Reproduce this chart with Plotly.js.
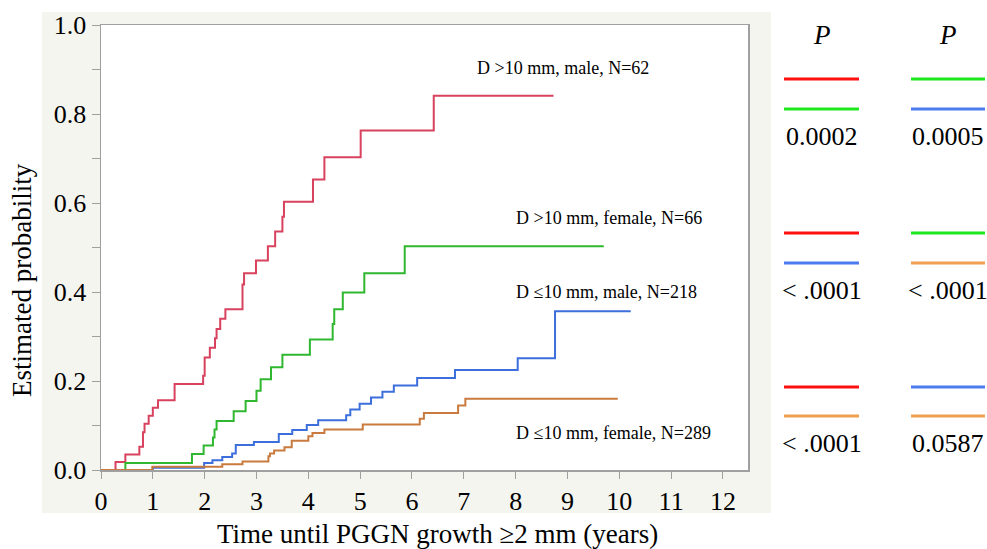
<!DOCTYPE html>
<html>
<head>
<meta charset="utf-8">
<script src="https://cdn.plot.ly/plotly-3.0.1.min.js"></script>
<style>html,body{margin:0;padding:0;background:#fff;}</style>
</head>
<body>
<div id="chart" style="width:987px;height:549px;"></div>
<script>
// Kaplan-Meier style cumulative estimates
const redT = [0, 0.28, 0.47, 0.74, 0.81, 0.84, 0.92, 1.0, 1.10, 1.42, 1.97, 2.0, 2.10, 2.20, 2.23, 2.30, 2.40, 2.73, 2.76, 2.99, 3.22, 3.36, 3.50, 3.53, 4.09, 4.31, 5.01, 6.42, 8.73];
const redP = [0, 0.018, 0.035, 0.052, 0.085, 0.104, 0.122, 0.140, 0.157, 0.193, 0.212, 0.253, 0.275, 0.296, 0.317, 0.340, 0.361, 0.417, 0.442, 0.471, 0.503, 0.536, 0.569, 0.603, 0.653, 0.703, 0.763, 0.841, 0.841];

const greenT = [0, 0.47, 1.755, 1.98, 2.16, 2.19, 2.23, 2.56, 2.79, 3.0, 3.08, 3.28, 3.50, 4.03, 4.47, 4.50, 4.665, 5.08, 5.86, 9.70];
const greenP = [0, 0.016, 0.036, 0.055, 0.073, 0.091, 0.110, 0.132, 0.155, 0.178, 0.204, 0.231, 0.259, 0.293, 0.328, 0.361, 0.399, 0.442, 0.503, 0.503];

const blueT = [0, 1.0, 1.99, 2.15, 2.34, 2.53, 2.60, 2.95, 3.43, 3.69, 3.97, 4.19, 4.73, 4.81, 4.99, 5.21, 5.43, 5.65, 6.10, 6.83, 8.04, 8.76, 10.22];
const blueP = [0, 0.005, 0.016, 0.022, 0.029, 0.037, 0.056, 0.063, 0.081, 0.090, 0.101, 0.112, 0.123, 0.136, 0.149, 0.163, 0.176, 0.190, 0.207, 0.225, 0.251, 0.357, 0.357];

const orangeT = [0, 0.99, 2.34, 2.73, 3.23, 3.26, 3.34, 3.54, 3.68, 4.0, 4.08, 4.31, 5.05, 6.15, 6.23, 6.89, 7.03, 9.97];
const orangeP = [0, 0.0075, 0.013, 0.019, 0.031, 0.037, 0.044, 0.051, 0.066, 0.076, 0.083, 0.091, 0.102, 0.115, 0.128, 0.145, 0.160, 0.160];

const groupLabels = ["D >10 mm, male, N=62", "D >10 mm, female, N=66", "D \u226410 mm, male, N=218", "D \u226410 mm, female, N=289"];
const xTicks = [0,1,2,3,4,5,6,7,8,9,10,11,12];
const yTicks = [0, 0.2, 0.4, 0.6, 0.8, 1.0];
const yTickText = ["0.0", "0.2", "0.4", "0.6", "0.8", "1.0"];
const xTitle = "Time until PGGN growth \u22652 mm (years)";
const yTitle = "Estimated probability";

// pairwise comparisons: [colour A, colour B, P text]
const pairA = ["red", "green", "red", "green", "red", "blue"];
const pairB = ["green", "blue", "blue", "orange", "orange", "orange"];
const pValues = ["0.0002", "0.0005", "< .0001", "< .0001", "< .0001", "0.0587"];

const curveColors = {red: "#d8425e", green: "#2fb72f", blue: "#3c6fdc", orange: "#c97a3e"};
const keyColors = {red: "#ff1010", green: "#1ee81e", blue: "#4a7cf0", orange: "#f0a050"};

const W = 987, H = 549;
const L = 101, R = 748, T = 25, B = 470;
const pw = R - L, ph = B - T;
const px = v => (v - L) / pw;
const py = v => (B - v) / ph;
const serif = "'Liberation Serif', 'Times New Roman', serif";

function curve(t, p, c) {
  return {x: t, y: p, type: "scatter", mode: "lines", line: {shape: "hv", color: curveColors[c], width: 2}, showlegend: false, hoverinfo: "x+y"};
}
const data = [
  curve(redT, redP, "red"),
  curve(greenT, greenP, "green"),
  curve(blueT, blueP, "blue"),
  curve(orangeT, orangeP, "orange")
];

const shapes = [{
  type: "rect", xref: "paper", yref: "paper", layer: "below",
  x0: px(42), x1: px(771), y0: py(513), y1: py(12),
  fillcolor: "#f5f5f0", line: {width: 0}
}, {
  type: "rect", xref: "paper", yref: "paper", layer: "below",
  x0: 0, x1: 1, y0: 0, y1: 1,
  fillcolor: "#ffffff", line: {width: 0}
}];

const annotations = [];
const labelPos = [[563, 68], [609, 218], [606, 292], [613, 433]];
groupLabels.forEach((g, i) => {
  annotations.push({xref: "paper", yref: "paper", x: px(labelPos[i][0]), y: py(labelPos[i][1]),
    text: g, showarrow: false, xanchor: "center", yanchor: "middle",
    font: {family: serif, size: 18, color: "#000"}});
});

// axis titles
annotations.push({xref: "paper", yref: "paper", x: px(437), y: py(534), text: xTitle, showarrow: false,
  xanchor: "center", yanchor: "middle", font: {family: serif, size: 27, color: "#000"}});
annotations.push({xref: "paper", yref: "paper", x: px(22), y: py(280), text: yTitle, showarrow: false, textangle: -90,
  xanchor: "center", yanchor: "middle", font: {family: serif, size: 27, color: "#000"}});

// legend / P-value panel
const colX = [[784, 859], [911, 985]];
const rowY = [[79, 109, 136], [233, 263, 290], [387, 416, 443]];
[0, 1].forEach(c => {
  annotations.push({xref: "paper", yref: "paper", x: px((colX[c][0] + colX[c][1]) / 2), y: py(35),
    text: "<i>P</i>", showarrow: false, xanchor: "center", yanchor: "middle",
    font: {family: serif, size: 27, color: "#000"}});
});
pValues.forEach((v, i) => {
  const r = Math.floor(i / 2), c = i % 2;
  const [x0, x1] = colX[c];
  const [ya, yb, yt] = rowY[r];
  shapes.push({type: "line", xref: "paper", yref: "paper", x0: px(x0), x1: px(x1), y0: py(ya), y1: py(ya),
    line: {color: keyColors[pairA[i]], width: 3}});
  shapes.push({type: "line", xref: "paper", yref: "paper", x0: px(x0), x1: px(x1), y0: py(yb), y1: py(yb),
    line: {color: keyColors[pairB[i]], width: 3}});
  annotations.push({xref: "paper", yref: "paper", x: px((x0 + x1) / 2), y: py(yt),
    text: v, showarrow: false, xanchor: "center", yanchor: "middle",
    font: {family: serif, size: 26, color: "#000"}});
});

const layout = {
  width: W, height: H,
  margin: {l: L, r: W - R, t: T, b: H - B, pad: 0},
  paper_bgcolor: "#ffffff",
  plot_bgcolor: "rgba(0,0,0,0)",
  showlegend: false,
  font: {family: serif, color: "#000"},
  xaxis: {
    range: [0, pw / 51.83], tickmode: "array", tickvals: xTicks, ticktext: xTicks.map(String),
    ticks: "outside", ticklen: 7, tickcolor: "#a0a0a0", tickwidth: 1,
    showline: true, linecolor: "#a0a0a0", linewidth: 1.5, mirror: true,
    showgrid: false, zeroline: false,
    tickfont: {family: serif, size: 26, color: "#000"}
  },
  yaxis: {
    range: [0, 1], tickmode: "array", tickvals: yTicks, ticktext: yTickText,
    ticks: "outside", ticklen: 8, tickcolor: "#a0a0a0", tickwidth: 1,
    minor: {tickmode: "array", tickvals: [0.1, 0.3, 0.5, 0.7, 0.9], ticks: "outside", ticklen: 8, tickcolor: "#a0a0a0", showgrid: false},
    showline: true, linecolor: "#a0a0a0", linewidth: 1.5, mirror: true,
    showgrid: false, zeroline: false,
    tickfont: {family: serif, size: 26, color: "#000"}
  },
  shapes: shapes,
  annotations: annotations
};

Plotly.newPlot("chart", data, layout, {displayModeBar: false, staticPlot: true});
</script>
</body>
</html>
